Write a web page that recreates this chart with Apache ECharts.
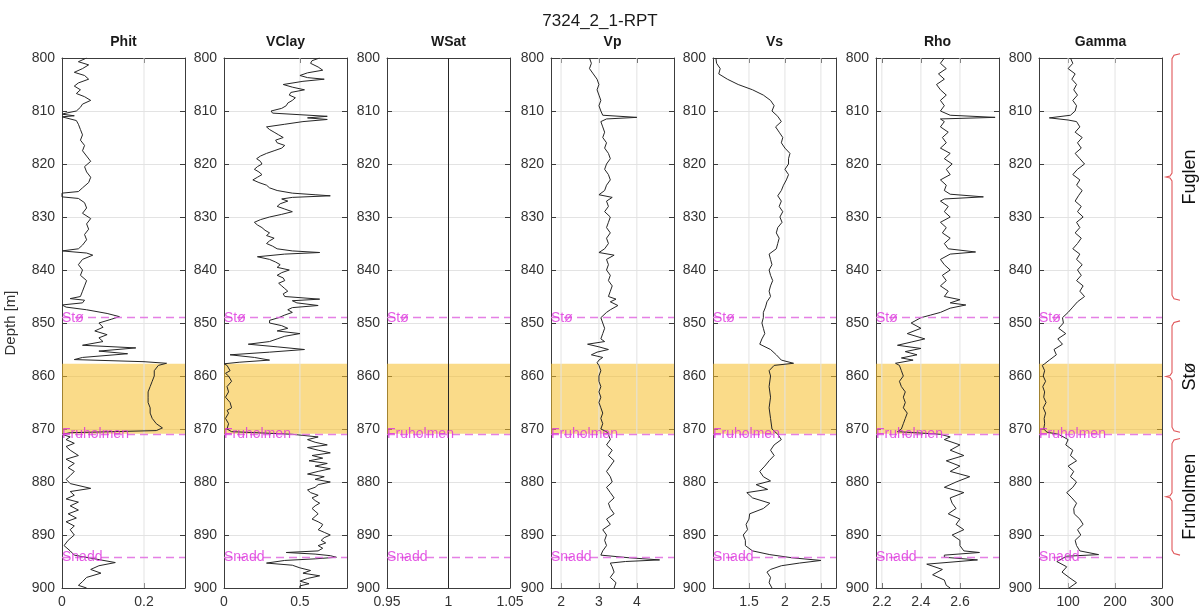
<!DOCTYPE html>
<html>
<head>
<meta charset="utf-8">
<title>7324_2_1-RPT</title>
<script src="https://cdn.jsdelivr.net/npm/echarts@6/dist/echarts.min.js"></script>
<style>
  html, body { margin: 0; padding: 0; background: #ffffff; }
  #chart { width: 1200px; height: 610px; }
</style>
</head>
<body>
<div id="chart"></div>
<script>
// ---- Well 7324_2_1 log tracks -------------------------------------------
const chartTitle = '7324_2_1-RPT';
const trackNames = ['Phit', 'VClay', 'WSat', 'Vp', 'Vs', 'Rho', 'Gamma'];
const xMins = [0, 0, 0.95, 1.735, 1.0, 2.17, 38];
const xMaxs = [0.3, 0.81, 1.05, 4.98, 2.71, 2.8, 300];
const xTickValues = [
  [0, 0.2], [0, 0.5], [0.95, 1, 1.05], [2, 3, 4], [1.5, 2, 2.5], [2.2, 2.4, 2.6], [100, 200, 300]
];
const depthMin = 800, depthMax = 900, depthStep = 10;

// Phit
const phitDepth = [800,800.7,801.3,802,802.7,803.3,804,804.7,805.3,806,806.7,807.3,808,808.7,809.3,810,810.4,810.6,810.9,811.1,811.4,811.8,812.5,813.5,814.5,815.5,816.5,817.5,818.5,819.5,820.5,821.5,822.5,823.5,824.5,825.2,825.5,826.2,826.5,827.3,828.3,829.3,830.3,831.3,832.3,833.3,834.3,835.3,836,836.4,836.8,837.2,838,839,840,841,842,843,844,845,845.4,845.7,846.2,846.6,847,847.5,848.2,848.8,849.3,850,850.8,851.5,852.2,852.8,853.5,854.2,854.7,855.3,855.8,856.5,856.9,857.3,857.6,858,859,860,861,862,863,864,865,866,867,868,869,869.8,870.3,870.7,871,871.5,872,872.7,873.3,874,875,875.7,876.5,877.3,878,878.8,879.5,880.3,881.2,881.8,882.5,883.2,883.8,884.5,885.3,886,886.8,887.5,888.3,889,890,891,892,893,893.8,894.5,895.2,895.8,896.5,897.2,898,898.8,899.5,900];
const phitValue = [0.06,0.04,0.065,0.05,0.03,0.055,0.065,0.04,0.03,0.045,0.035,0.055,0.07,0.05,0.045,0.035,0.01,0.0,0.03,0.0,0.0,0.035,0.04,0.045,0.05,0.045,0.055,0.05,0.06,0.07,0.055,0.06,0.07,0.065,0.05,0.04,0.0,0.0,0.04,0.055,0.06,0.05,0.07,0.06,0.065,0.055,0.06,0.05,0.04,0.0,0.06,0.075,0.05,0.04,0.05,0.045,0.06,0.055,0.05,0.045,0.02,0.055,0.05,0.0,0.01,0.06,0.11,0.14,0.12,0.09,0.1,0.08,0.11,0.09,0.1,0.05,0.18,0.09,0.16,0.05,0.03,0.2,0.255,0.235,0.225,0.225,0.22,0.215,0.21,0.21,0.21,0.215,0.215,0.22,0.23,0.245,0.23,0.02,0.0,0.02,0.01,0.03,0.01,0.02,0.04,0.01,0.03,0.015,0.03,0.02,0.01,0.02,0.07,0.02,0.03,0.01,0.04,0.02,0.04,0.015,0.035,0.01,0.03,0.02,0.03,0.015,0.005,0.02,0.03,0.08,0.13,0.09,0.07,0.095,0.06,0.05,0.04,0.06];

// VClay
const vclayDepth = [800,800.5,801,801.7,802.3,802.8,803.3,803.7,804,804.4,805,805.5,806,806.5,807,807.5,808,808.5,809,809.5,810,810.4,810.7,811,811.3,811.6,812,812.5,813,813.5,814,814.5,815,815.5,816,816.5,817,817.5,818,818.5,819,819.5,820,820.5,821,821.5,822,822.5,823,823.5,824,824.5,825,825.5,825.8,826,826.3,826.6,827,827.5,828,828.5,829,829.5,830,830.5,831,831.5,832,832.5,833,833.5,834,834.5,835,835.5,836,836.4,836.7,837,837.5,838,838.5,839,839.5,840,840.5,841,841.5,842,842.5,843,843.5,844,844.5,845,845.5,845.8,846.2,846.7,847.1,847.5,848,848.5,849,849.5,850,850.5,851,851.5,852,852.5,853,853.5,854,854.5,855,855.5,856,856.5,857,857.4,857.7,858,859,859.5,860,861,862,863,864,865,866,866.5,867,868,869,870,870.5,871,871.5,872,872.5,873,873.5,874,874.5,875,875.5,876,876.5,877,877.5,878,878.5,879,879.5,880,880.5,881,881.5,882,882.5,883,883.5,884,884.5,885,885.5,886,886.5,887,887.5,888,888.5,889,889.5,890,890.5,891,891.5,892,892.5,893,893.3,893.6,893.9,894.2,894.5,894.8,895.3,895.7,896.2,896.7,897.2,897.7,898.2,898.7,899.2,899.6,900];
const vclayValue = [0.63,0.58,0.57,0.62,0.65,0.55,0.5,0.55,0.66,0.52,0.39,0.45,0.53,0.44,0.43,0.47,0.45,0.42,0.41,0.38,0.31,0.32,0.5,0.68,0.55,0.68,0.52,0.4,0.28,0.3,0.33,0.36,0.39,0.34,0.35,0.4,0.38,0.33,0.28,0.24,0.215,0.24,0.25,0.22,0.2,0.23,0.25,0.22,0.19,0.23,0.28,0.3,0.35,0.45,0.6,0.7,0.45,0.38,0.42,0.37,0.35,0.4,0.45,0.38,0.3,0.24,0.2,0.22,0.25,0.27,0.3,0.28,0.33,0.3,0.28,0.32,0.35,0.45,0.63,0.4,0.22,0.3,0.34,0.37,0.35,0.43,0.38,0.35,0.39,0.4,0.36,0.38,0.4,0.42,0.39,0.4,0.63,0.45,0.48,0.62,0.45,0.42,0.45,0.4,0.36,0.3,0.3,0.38,0.42,0.35,0.5,0.4,0.35,0.3,0.16,0.35,0.53,0.3,0.04,0.2,0.3,0.1,0.0,0.02,0.04,0.01,0.03,0.05,0.02,0.03,0.01,0.04,0.05,0.02,0.03,0.01,0.03,0.02,0.05,0.45,0.62,0.55,0.6,0.68,0.55,0.62,0.7,0.58,0.65,0.56,0.68,0.6,0.7,0.62,0.55,0.66,0.6,0.7,0.62,0.6,0.55,0.57,0.62,0.58,0.6,0.63,0.6,0.58,0.6,0.62,0.6,0.58,0.62,0.65,0.64,0.62,0.66,0.7,0.66,0.64,0.67,0.62,0.65,0.62,0.41,0.6,0.7,0.74,0.6,0.4,0.28,0.45,0.5,0.57,0.52,0.63,0.55,0.5,0.56,0.5,0.5];

// WSat
const wsatDepth = [800, 900];
const wsatValue = [1, 1];

// Vp (km/s)
const vpDepth = [800,801,802,803,804,805,806,807,808,809,810,810.8,811.2,811.5,812,813,814,815,816,817,818,819,820,821,822,823,824,825,825.8,826.3,827,828,829,830,831,832,833,834,835,836,836.7,837.2,838,839,840,841,842,843,844,845,845.5,846,846.7,847.5,848,849,850,851,852,853,853.5,854,854.5,855,855.5,856,856.5,857,857.5,858,859,860,861,862,863,864,865,866,867,868,869,870,870.5,871,872,873,874,875,876,877,878,879,880,881,882,883,884,885,886,887,888,889,890,891,892,893,893.8,894.3,894.7,895,895.3,896,897,898,899,900];
const vpValue = [2.75,2.8,2.75,2.85,2.95,3.0,2.95,3.0,3.05,3.0,3.05,3.1,4.0,3.2,3.05,3.1,3.15,3.1,3.2,3.15,3.25,3.3,3.2,3.15,3.25,3.3,3.2,3.15,3.0,3.35,3.2,3.25,3.15,3.3,3.25,3.2,3.3,3.2,3.25,3.15,3.0,3.4,3.2,3.25,3.2,3.3,3.25,3.35,3.3,3.25,3.45,3.3,3.5,3.3,3.2,3.05,3.1,3.15,3.1,3.05,3.15,2.7,3.0,3.25,2.95,2.8,3.1,3.0,2.95,3.0,3.05,3.0,3.0,3.05,3.0,3.05,3.0,3.05,3.1,3.05,3.1,3.05,3.2,3.25,3.3,3.2,3.35,3.25,3.4,3.3,3.2,3.3,3.35,3.2,3.3,3.4,3.25,3.3,3.4,3.2,3.3,3.1,3.2,3.15,3.2,3.1,3.05,3.8,4.6,3.7,3.3,3.35,3.4,3.3,3.45,3.4];

// Vs (km/s)
const vsDepth = [800,801,802,803,804,805,806,807,808,809,810,811,812,813,814,815,816,817,818,819,820,821,822,823,824,825,826,827,828,829,830,831,832,833,834,835,836,837,838,839,840,841,842,843,844,845,846,847,848,849,850,851,852,853,854,855,856,857,857.6,858,859,860,862,864,866,868,870,871,872,873,874,875,876,877,878,879,879.8,880.5,881.4,882,883,884,885,886,887,888,889,890,891,892,893,893.7,894.3,894.8,895.3,895.8,896.5,897,898,899,900];
const vsValue = [1.04,1.05,1.1,1.08,1.2,1.35,1.55,1.7,1.8,1.85,1.82,1.9,1.95,1.87,1.92,1.97,1.95,2.0,2.07,2.05,2.05,2.0,2.05,2.02,1.98,1.95,1.9,1.95,1.92,1.97,1.93,1.96,1.9,1.88,1.92,1.9,1.88,1.78,1.8,1.82,1.78,1.8,1.83,1.8,1.78,1.8,1.75,1.73,1.7,1.7,1.68,1.7,1.72,1.68,1.65,1.8,1.88,1.95,2.12,1.85,1.78,1.8,1.78,1.8,1.78,1.8,1.82,1.9,1.95,1.85,1.8,1.85,1.78,1.72,1.65,1.7,1.8,1.6,1.76,1.47,1.55,1.79,1.7,1.51,1.5,1.46,1.48,1.42,1.45,1.45,1.55,1.79,2.1,2.5,2.2,1.95,1.8,1.75,1.8,1.78,1.82];

// Rho (g/cc)
const rhoDepth = [800,801,802,803,804,805,806,807,808,809,810,810.8,811.2,811.5,812,813,814,815,816,817,818,819,820,821,822,823,824,825,825.7,826.2,826.6,827,828,829,830,831,832,833,834,835,836,836.6,837,838,839,840,841,842,843,844,845,845.6,846.2,846.6,847.2,848,848.5,849,850,851,852,853,853.6,854.2,854.8,855.4,856,856.6,857,857.6,858,859,860,861,862,863,864,865,866,867,868,869,870,870.5,871,871.5,872,873,874,875,876,877,878,879,880,881,882,883,884,885,886,887,888,889,890,891,892,893,893.3,893.8,894.2,894.7,895.5,896.5,897.5,898.5,899.5,900];
const rhoValue = [2.52,2.5,2.53,2.49,2.52,2.48,2.5,2.53,2.5,2.52,2.5,2.55,2.78,2.5,2.52,2.5,2.54,2.51,2.53,2.5,2.55,2.52,2.56,2.53,2.55,2.5,2.53,2.52,2.55,2.72,2.52,2.5,2.54,2.52,2.55,2.5,2.53,2.51,2.55,2.52,2.54,2.68,2.55,2.5,2.52,2.55,2.51,2.53,2.5,2.54,2.52,2.6,2.55,2.63,2.55,2.5,2.45,2.4,2.35,2.4,2.33,2.42,2.35,2.28,2.4,2.32,2.38,2.3,2.36,2.27,2.29,2.3,2.31,2.29,2.3,2.32,2.31,2.32,2.31,2.33,2.32,2.31,2.3,2.28,2.5,2.55,2.52,2.6,2.55,2.62,2.53,2.6,2.55,2.65,2.58,2.52,2.62,2.55,2.56,2.58,2.54,2.6,2.58,2.62,2.56,2.6,2.6,2.62,2.7,2.52,2.52,2.69,2.43,2.51,2.46,2.52,2.53,2.55];

// Gamma (API)
const gammaDepth = [800,801,802,803,804,805,806,807,808,809,810,810.8,811.3,811.7,812,813,814,815,816,817,818,819,820,821,822,823,824,825,826,827,828,829,830,831,832,833,834,835,836,837,838,839,840,841,842,843,844,845,846,847,848,849,850,851,852,853,854,855,856,857,857.7,858,859,860,861,862,863,864,865,866,867,868,869,870,870.6,871,872,873,874,875,876,877,878,879,880,881,882,883,884,885,886,887,888,889,890,891,892,893,893.7,894,895,896,897,898,899,900];
const gammaValue = [105,110,100,115,108,118,112,120,110,118,115,105,60,100,118,125,115,130,120,128,115,125,135,120,110,125,118,130,122,115,128,120,132,118,125,115,128,120,110,125,118,130,120,128,118,132,125,135,120,110,100,88,90,80,95,78,88,70,75,60,50,45,50,47,52,46,50,48,53,47,52,49,50,48,55,80,100,95,110,105,118,100,112,105,118,110,97,108,118,112,113,125,132,120,127,115,118,125,165,97,76,97,87,102,118,102];

const trackDepths = [phitDepth, vclayDepth, wsatDepth, vpDepth, vsDepth, rhoDepth, gammaDepth];
const trackValues = [phitValue, vclayValue, wsatValue, vpValue, vsValue, rhoValue, gammaValue];

// Formation tops and the highlighted reservoir interval
const horizonNames = ['Stø', 'Fruholmen', 'Snadd'];
const horizonDepths = [849, 871, 894.2];
const zoneTop = 857.7, zoneBottom = 870.9;

// Stratigraphic units shown as braces on the right
const unitNames = ['Fuglen', 'Stø', 'Fruholmen'];
const unitTops = [799.2, 849.6, 871.8];
const unitBottoms = [845.7, 870.6, 893.8];

// ---- Layout -----------------------------------------------------------------
const FONT = '"Liberation Sans", Arial, Helvetica, sans-serif';
const AXIS_COLOR = '#3c3c3c';
const GRID_COLOR = '#e3e3e3';
const trackLefts = [62, 224, 387, 551, 713, 876, 1039];
const trackWidth = 123;
const plotTop = 58, plotHeight = 530;

const grids = [], xAxes = [], yAxes = [], series = [];

trackNames.forEach((name, i) => {
  grids.push({ left: trackLefts[i], top: plotTop, width: trackWidth, height: plotHeight });
  const ticks = xTickValues[i];
  // bottom axis with labels
  xAxes.push({
    type: 'value', gridIndex: i, position: 'bottom', min: xMins[i], max: xMaxs[i],
    axisLine: { show: true, onZero: false, lineStyle: { color: AXIS_COLOR, width: 1 } },
    axisTick: { show: true, inside: true, length: 5, customValues: ticks, lineStyle: { color: AXIS_COLOR } },
    axisLabel: { show: true, customValues: ticks, margin: 7, fontSize: 14, color: '#333', fontFamily: FONT,
                 showMinLabel: true, showMaxLabel: true },
    splitLine: { show: false }
  });
  // top axis carries the track title
  xAxes.push({
    type: 'value', gridIndex: i, position: 'top', min: xMins[i], max: xMaxs[i],
    name: name, nameLocation: 'middle', nameGap: 9,
    nameTextStyle: { fontSize: 14, fontWeight: 'bold', color: '#1a1a1a', fontFamily: FONT },
    axisLine: { show: true, onZero: false, lineStyle: { color: AXIS_COLOR, width: 1 } },
    axisTick: { show: true, inside: true, length: 5, customValues: ticks, lineStyle: { color: AXIS_COLOR } },
    axisLabel: { show: false },
    splitLine: { show: false }
  });
  // left depth axis
  yAxes.push({
    type: 'value', gridIndex: i, position: 'left', inverse: true,
    min: depthMin, max: depthMax, interval: depthStep,
    name: i === 0 ? 'Depth [m]' : '', nameLocation: 'middle', nameGap: 44, nameRotate: 90,
    nameTextStyle: { fontSize: 15, color: '#333', fontFamily: FONT },
    axisLine: { show: true, onZero: false, lineStyle: { color: AXIS_COLOR, width: 1 } },
    axisTick: { show: true, inside: true, length: 5, lineStyle: { color: AXIS_COLOR } },
    axisLabel: { show: true, margin: 7, fontSize: 14, color: '#333', fontFamily: FONT },
    splitLine: { show: true, lineStyle: { color: GRID_COLOR, width: 1 } }
  });
  // right depth axis (ticks only)
  yAxes.push({
    type: 'value', gridIndex: i, position: 'right', inverse: true,
    min: depthMin, max: depthMax, interval: depthStep,
    axisLine: { show: true, onZero: false, lineStyle: { color: AXIS_COLOR, width: 1 } },
    axisTick: { show: true, inside: true, length: 5, lineStyle: { color: AXIS_COLOR } },
    axisLabel: { show: false },
    splitLine: { show: false }
  });

  const xi = 2 * i, yi = 2 * i;

  // vertical grid lines at the labelled ticks
  ticks.filter(t => t > xMins[i] && t < xMaxs[i]).forEach(t => {
    series.push({
      type: 'line', xAxisIndex: xi, yAxisIndex: yi, z: 1, silent: true, animation: false,
      data: [[t, depthMin], [t, depthMax]], showSymbol: false, symbol: 'none',
      lineStyle: { color: GRID_COLOR, width: 1 }
    });
  });

  // the log curve
  const depths = trackDepths[i], values = trackValues[i];
  series.push({
    type: 'line', name: name, xAxisIndex: xi, yAxisIndex: yi, z: 3,
    data: depths.map((d, k) => [values[k], d]),
    showSymbol: false, symbol: 'none', animation: false, silent: true,
    lineStyle: { color: '#262626', width: 1 }
  });

  // reservoir zone, horizon lines and horizon names
  series.push({
    type: 'scatter', xAxisIndex: xi, yAxisIndex: yi, z: 5, silent: true, animation: false,
    symbolSize: 0,
    data: horizonNames.map((h, k) => [xMins[i], horizonDepths[k], h]),
    label: {
      show: true, position: 'right', distance: 0, formatter: p => p.data[2],
      color: '#dd2fdd', fontSize: 14, fontFamily: FONT
    },
    markArea: {
      silent: true, animation: false,
      itemStyle: { color: 'rgba(246,190,40,0.55)' },
      data: [[{ yAxis: zoneTop }, { yAxis: zoneBottom }]]
    },
    markLine: {
      silent: true, symbol: ['none', 'none'], animation: false,
      label: { show: false },
      lineStyle: { color: '#e06ae0', width: 1.3, type: [8, 5], opacity: 0.85 },
      data: horizonDepths.map(d => ({ yAxis: d }))
    }
  });
});

// hidden coordinate system for the stratigraphic braces
const bi = trackNames.length;
grids.push({ left: 1162, top: plotTop, width: 38, height: plotHeight });
xAxes.push({ type: 'value', gridIndex: bi, min: 0, max: 1, show: false });
yAxes.push({ type: 'value', gridIndex: bi, inverse: true, min: depthMin, max: depthMax, show: false });
series.push({
  type: 'custom', xAxisIndex: 2 * bi, yAxisIndex: 2 * bi, silent: true, animation: false,
  data: unitNames.map((n, k) => [unitTops[k], unitBottoms[k], n]),
  renderItem: (params, api) => {
    const yTop = api.coord([0, api.value(0)])[1];
    const yBot = api.coord([0, api.value(1)])[1];
    const yMid = (yTop + yBot) / 2;
    const x = api.coord([0, depthMin])[0] + 10;
    const label = unitNames[params.dataIndex];
    return {
      type: 'group',
      children: [
        {
          type: 'polyline',
          shape: { points: [[x + 8, yTop], [x + 2, yTop + 1.5], [x, yTop + 5], [x, yMid - 4], [x - 2, yMid - 1], [x - 6, yMid],
                            [x - 2, yMid + 1], [x, yMid + 4], [x, yBot - 5], [x + 2, yBot - 1.5], [x + 8, yBot]] },
          style: { stroke: '#e0575a', fill: 'none', lineWidth: 1.1 }
        },
        {
          type: 'text', x: x + 18, y: yMid, rotation: Math.PI / 2,
          style: { text: label, fill: '#111', font: '18px ' + FONT, align: 'center', verticalAlign: 'middle' }
        }
      ]
    };
  }
});

const chart = echarts.init(document.getElementById('chart'), null, { renderer: 'canvas' });
chart.setOption({
  backgroundColor: '#ffffff',
  animation: false,
  title: {
    text: chartTitle, left: 'center', top: 8,
    textStyle: { fontSize: 17, fontWeight: 'normal', color: '#1a1a1a', fontFamily: FONT }
  },
  grid: grids,
  xAxis: xAxes,
  yAxis: yAxes,
  series: series
});
</script>
</body>
</html>
